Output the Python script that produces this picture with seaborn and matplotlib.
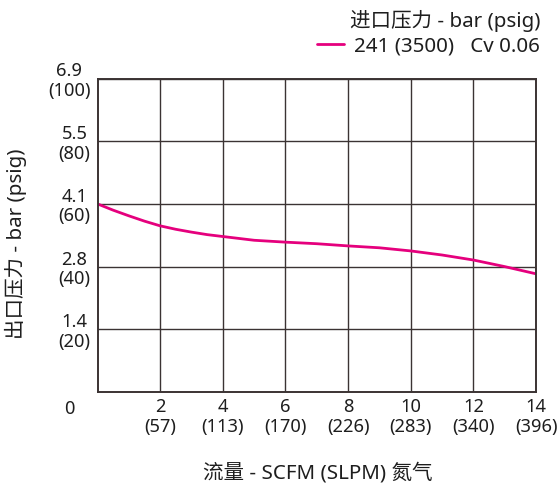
"""Outlet pressure vs. flow curve for a regulator (nitrogen)."""

import matplotlib

matplotlib.use("Agg")

import matplotlib.pyplot as plt
import pandas as pd
import seaborn as sns

# data
flow_scfm = [0, 0.5, 1, 1.5, 2, 2.5, 3, 3.5, 4, 5, 6, 7, 8, 9, 10, 11, 12, 13, 14]
outlet_psig = [60.0, 58.0, 56.2, 54.5, 53.0, 51.9, 51.0, 50.2, 49.6, 48.4, 47.8, 47.3,
               46.6, 46.0, 45.0, 43.7, 42.1, 40.0, 37.7]
series_label = "241 (3500)   Cv 0.06"

x_ticks = [2, 4, 6, 8, 10, 12, 14]
x_tick_labels = ["2\n(57)", "4\n(113)", "6\n(170)", "8\n(226)", "10\n(283)", "12\n(340)", "14\n(396)"]
y_ticks = [20, 40, 60, 80, 100]
y_tick_labels = ["1.4\n(20)", "2.8\n(40)", "4.1\n(60)", "5.5\n(80)", "6.9\n(100)"]

df = pd.DataFrame({"flow": flow_scfm, "pressure": outlet_psig, "series": series_label})

sns.set_theme(style="white")
plt.rcParams["font.family"] = ["Noto Sans", "Noto Sans CJK SC", "DejaVu Sans"]
TICK_FS = 13.2
LABEL_FS = 14.8
text_color = "#1e1e1e"

grid_color = "#3b3333"
line_color = "#e5007d"

fig = plt.figure(figsize=(5.6, 4.84), dpi=100)
ax = fig.add_axes([97.5 / 560, 1 - 392 / 484, 438.5 / 560, 313.5 / 484])

sns.lineplot(data=df, x="flow", y="pressure", hue="series",
             palette=[line_color], linewidth=2.0, ax=ax)

ax.set_xlim(0, 14)
ax.set_ylim(0, 100)
ax.set_xticks(x_ticks)
ax.set_xticklabels(x_tick_labels, fontsize=TICK_FS, color=text_color, linespacing=1.15)
ax.set_yticks(y_ticks)
ax.set_yticklabels(y_tick_labels, fontsize=TICK_FS, color=text_color, linespacing=1.1)
for lab in ax.get_yticklabels():
    lab.set_multialignment("center")
ax.tick_params(axis="both", length=0)
ax.tick_params(axis="x", pad=4)
ax.tick_params(axis="y", pad=5)

ax.grid(True, color=grid_color, linewidth=1.0)
for spine in ax.spines.values():
    spine.set_visible(True)
    spine.set_color(grid_color)
    spine.set_linewidth(1.4)

ax.set_xlabel("")
ax.set_ylabel("出口压力 - bar (psig)", fontsize=LABEL_FS, color=text_color)
ax.yaxis.set_label_coords(-0.161, 0.472)
fig.text(318 / 560, 1 - 473 / 484, "流量 - SCFM (SLPM) 氮气", fontsize=LABEL_FS,
         color=text_color, ha="center", va="center")
fig.text(69 / 560, 1 - 409 / 484, "0", fontsize=TICK_FS, color=text_color,
         ha="center", va="center")

leg = ax.legend(title="进口压力 - bar (psig)", loc="upper right",
                bbox_to_anchor=(540 / 560, 1 - 10 / 484), bbox_transform=fig.transFigure,
                frameon=False, fontsize=LABEL_FS, title_fontsize=LABEL_FS,
                handlelength=1.3, handletextpad=0.5, alignment="right",
                borderaxespad=0.0, borderpad=0.0, labelspacing=0.2)
for line in leg.get_lines():
    line.set_linewidth(2.0)
for t in leg.get_texts() + [leg.get_title()]:
    t.set_color(text_color)

fig.savefig("out.png", dpi=100)
